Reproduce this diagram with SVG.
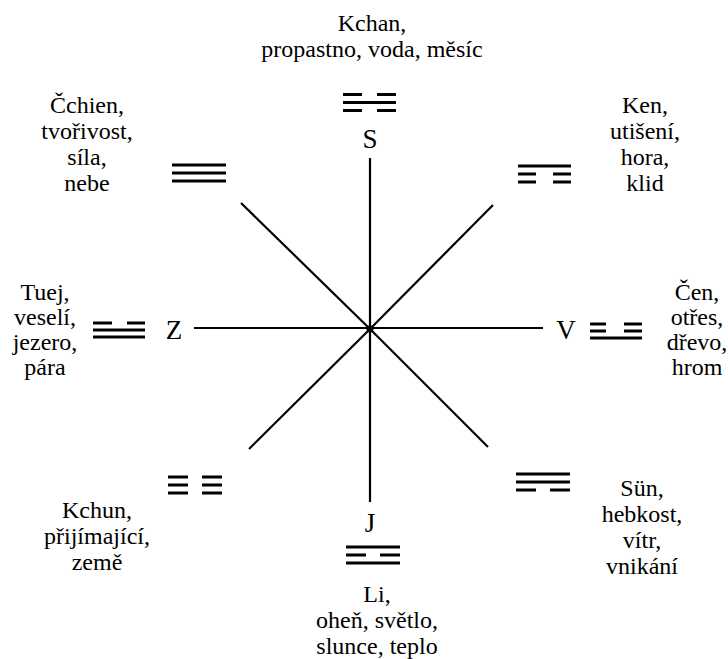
<svg xmlns="http://www.w3.org/2000/svg" width="728" height="659" viewBox="0 0 728 659">
<style>
text{font-family:"Liberation Serif","Times New Roman",serif;fill:#000}
.lbl{font-size:24px;text-anchor:middle}
.dir{font-size:27px;text-anchor:middle}
.bar{stroke:#000;stroke-width:3;fill:none}
.spoke{stroke:#000;stroke-width:2.2;fill:none}
</style>
<rect width="728" height="659" fill="#fff"/>
<g id="connectors">
<line class="spoke" x1="370" y1="158" x2="370" y2="502"/>
<line class="spoke" x1="194" y1="328" x2="543" y2="328"/>
<line class="spoke" x1="241" y1="203" x2="370" y2="329"/>
<line class="spoke" x1="493" y1="205" x2="370" y2="329"/>
<line class="spoke" x1="249" y1="449" x2="370" y2="329"/>
<line class="spoke" x1="488" y1="447" x2="370" y2="329"/>
<circle cx="370" cy="329" r="3.5" fill="#000"/>
</g>
<g id="node-kchan">
<text class="lbl"><tspan x="372" y="31">Kchan,</tspan><tspan x="372" y="57">propastno, voda, měsíc</tspan></text>
<path class="bar" d="M343 94.5H362M377 94.5H396M343 102.5H396M343 110.5H362M377 110.5H396"/>
<text class="dir" x="370" y="148">S</text>
</g>
<g id="node-cchien">
<text class="lbl"><tspan x="87" y="113">Čchien,</tspan><tspan x="87" y="139">tvořivost,</tspan><tspan x="87" y="165">síla,</tspan><tspan x="87" y="191">nebe</tspan></text>
<path class="bar" d="M172 165H226M172 173H226M172 181H226"/>
</g>
<g id="node-ken">
<text class="lbl"><tspan x="645" y="113">Ken,</tspan><tspan x="645" y="139">utišení,</tspan><tspan x="645" y="165">hora,</tspan><tspan x="645" y="191">klid</tspan></text>
<path class="bar" d="M518 166H571M518 174H536M553 174H571M518 182H536M553 182H571"/>
</g>
<g id="node-tuej">
<text class="lbl"><tspan x="45" y="300">Tuej,</tspan><tspan x="45" y="325">veselí,</tspan><tspan x="45" y="350">jezero,</tspan><tspan x="45" y="375">pára</tspan></text>
<path class="bar" d="M93 323H112M127 323H145M93 330H145M93 337H145"/>
<text class="dir" x="174" y="339">Z</text>
</g>
<g id="node-cen">
<text class="lbl"><tspan x="697" y="300">Čen,</tspan><tspan x="697" y="325">otřes,</tspan><tspan x="697" y="350">dřevo,</tspan><tspan x="697" y="375">hrom</tspan></text>
<text class="dir" x="566" y="339">V</text>
<path class="bar" d="M590 324H606M624 324H642M590 331H606M624 331H642M590 338H642"/>
</g>
<g id="node-kchun">
<path class="bar" d="M168 477H188M202 477H222M168 485H188M202 485H222M168 493H188M202 493H222"/>
<text class="lbl"><tspan x="97" y="518">Kchun,</tspan><tspan x="97" y="544">přijímající,</tspan><tspan x="97" y="570">země</tspan></text>
</g>
<g id="node-sun">
<path class="bar" d="M516 474H570M516 482H570M516 490H536M550 490H570"/>
<text class="lbl"><tspan x="642" y="496">Sün,</tspan><tspan x="642" y="522">hebkost,</tspan><tspan x="642" y="548">vítr,</tspan><tspan x="642" y="574">vnikání</tspan></text>
</g>
<g id="node-li">
<text class="dir" x="370" y="532">J</text>
<path class="bar" d="M346 547H400M346 555H366M380 555H400M346 563H400"/>
<text class="lbl"><tspan x="377" y="602">Li,</tspan><tspan x="377" y="628">oheň, světlo,</tspan><tspan x="377" y="654">slunce, teplo</tspan></text>
</g>
</svg>
